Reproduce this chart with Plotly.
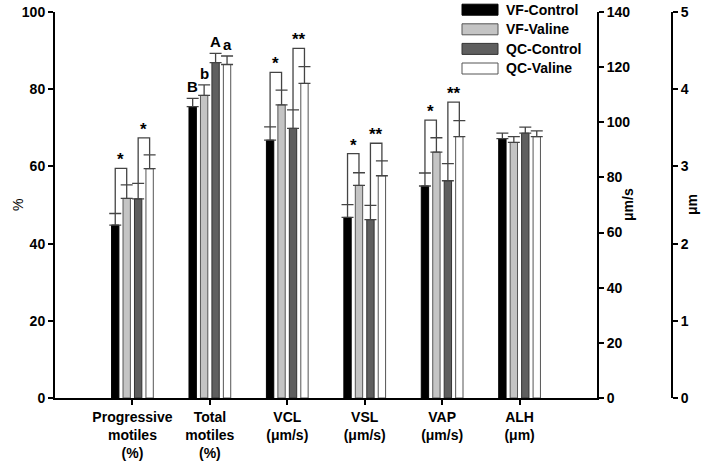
import plotly.graph_objects as go

# ---------------- data ----------------
categories = ["Progressive<br>motiles<br>(%)", "Total<br>motiles<br>(%)", "VCL<br>(μm/s)",
              "VSL<br>(μm/s)", "VAP<br>(μm/s)", "ALH<br>(μm)"]
category_axis = ["y", "y", "y2", "y2", "y2", "y3"]

series_names = ["VF-Control", "VF-Valine", "QC-Control", "QC-Valine"]
vf_control = [44.8, 75.5, 93.5, 65.5, 76.9, 3.36]
vf_valine = [51.7, 78.4, 106.3, 77.1, 89.2, 3.31]
qc_control = [51.6, 86.9, 97.8, 64.7, 78.8, 3.43]
qc_valine = [59.4, 86.4, 114.1, 80.6, 94.8, 3.385]

vf_control_err = [3.0, 2.1, 4.8, 4.6, 4.7, 0.07]
vf_valine_err = [3.5, 2.7, 5.4, 4.6, 5.2, 0.075]
qc_control_err = [4.0, 2.4, 6.7, 5.2, 6.2, 0.08]
qc_valine_err = [3.6, 2.2, 6.1, 5.4, 5.8, 0.075]

# significance brackets: category index, left series, right series, bracket top, label
sig_category = [0, 0, 2, 2, 3, 3, 4, 4]
sig_left = [0, 2, 0, 2, 0, 2, 0, 2]
sig_right = [1, 3, 1, 3, 1, 3, 1, 3]
sig_top = [59.5, 67.4, 118.1, 126.8, 88.6, 92.4, 100.8, 107.3]
sig_label = ["*", "*", "*", "**", "*", "**", "*", "**"]

# letters over Total motiles
letter_category = 1
letter_labels = ["B", "b", "A", "a"]

# axis ticks
pct_ticks = [0, 20, 40, 60, 80, 100]
ums_ticks = [0, 20, 40, 60, 80, 100, 120, 140]
um_ticks = [0, 1, 2, 3, 4, 5]

# ---------------- styles ----------------
values = [vf_control, vf_valine, qc_control, qc_valine]
errors = [vf_control_err, vf_valine_err, qc_control_err, qc_valine_err]
fills = ["#000000", "#c4c4c4", "#5f5f5f", "#ffffff"]
edges = ["#000000", "#555555", "#333333", "#555555"]
centers = [-0.222, -0.074, 0.074, 0.222]
bar_w = 0.095
FONT = "Liberation Sans, Arial, sans-serif"
GRAY = "#444444"

fig = go.Figure()
axis_groups = ["y", "y2", "y3"]
for s in range(4):
    for ax in axis_groups:
        idx = [i for i, a in enumerate(category_axis) if a == ax]
        fig.add_trace(go.Bar(
            x=[i + 1 for i in idx],
            y=[values[s][i] for i in idx],
            yaxis=ax,
            name=series_names[s],
            showlegend=False,
            offset=centers[s] - bar_w / 2,
            width=bar_w,
            marker=dict(color=fills[s], line=dict(color=edges[s], width=1)),
            error_y=dict(type="data", array=[errors[s][i] for i in idx], symmetric=False,
                         arrayminus=[0] * len(idx), color=GRAY, thickness=1.3, width=6),
        ))

shapes = []
annotations = []
for k in range(len(sig_category)):
    c = sig_category[k]
    ax = category_axis[c]
    l, r = sig_left[k], sig_right[k]
    xl = c + 1 + centers[l]
    xr = c + 1 + centers[r]
    yl = values[l][c] + errors[l][c]
    yr = values[r][c] + errors[r][c]
    top = sig_top[k]
    shapes.append(dict(type="path", xref="x", yref=ax,
                       path=f"M {xl},{yl} L {xl},{top} L {xr},{top} L {xr},{yr}",
                       line=dict(color=GRAY, width=1.3)))
    annotations.append(dict(x=(xl + xr) / 2, y=top, xref="x", yref=ax, text=f"<b>{sig_label[k]}</b>",
                            showarrow=False, yanchor="bottom", yshift=-3,
                            font=dict(family=FONT, size=17, color="black")))

for s in range(4):
    c = letter_category
    annotations.append(dict(x=c + 1 + centers[s], y=values[s][c] + errors[s][c], xref="x",
                            yref=category_axis[c], text=f"<b>{letter_labels[s]}</b>",
                            showarrow=False, yanchor="bottom", yshift=1,
                            font=dict(family=FONT, size=15, color="black")))

# custom legend
L, W, T, H = 55, 617, 12, 386
def px(x):
    return (x - L) / W
def py(y):
    return (T + H - y) / H
row_y = [9.7, 29.3, 48.9, 68.5]
for s in range(4):
    shapes.append(dict(type="rect", xref="paper", yref="paper",
                       x0=px(462), x1=px(498), y0=py(row_y[s] + 5.5), y1=py(row_y[s] - 5.5),
                       fillcolor=fills[s], line=dict(color=edges[s] if s else "#000", width=1)))
    annotations.append(dict(x=px(504), y=py(row_y[s]), xref="paper", yref="paper",
                            text=f"<b>{series_names[s]}</b>", showarrow=False,
                            xanchor="left", yanchor="middle",
                            font=dict(family=FONT, size=14, color="black")))

# axis titles
annotations.append(dict(x=px(8), y=0.5, xref="paper", yref="paper", text="%", textangle=-90,
                        showarrow=False, font=dict(family=FONT, size=14, color="black")))
annotations.append(dict(x=px(638), y=0.5, xref="paper", yref="paper", text="<b>μm/s</b>",
                        textangle=-90, showarrow=False, font=dict(family=FONT, size=14, color="black")))
annotations.append(dict(x=px(702), y=0.5, xref="paper", yref="paper", text="<b>μm</b>",
                        textangle=-90, showarrow=False, font=dict(family=FONT, size=14, color="black")))

tickfont = dict(family=FONT, size=14, color="black", weight="bold")
axis_common = dict(showline=True, linecolor="black", linewidth=2, ticks="outside", ticklen=5,
                   tickwidth=2, tickcolor="black", showgrid=False, zeroline=False,
                   tickfont=tickfont, fixedrange=True, automargin=False)

fig.update_layout(
    width=714, height=471,
    margin=dict(l=L, r=714 - L - W, t=T, b=471 - T - H, autoexpand=False),
    paper_bgcolor="white", plot_bgcolor="white",
    barmode="overlay",
    showlegend=False,
    xaxis=dict(domain=[0, (597 - L) / W], range=[0, 7], tickvals=[1, 2, 3, 4, 5, 6],
               ticktext=[f"<b>{c}</b>" for c in categories], anchor="y", **axis_common),
    yaxis=dict(range=[0, 100], tickvals=pct_ticks, anchor="x", **axis_common),
    yaxis2=dict(range=[0, 140], tickvals=ums_ticks, overlaying="y", side="right", anchor="x",
                **axis_common),
    yaxis3=dict(range=[0, 5], tickvals=um_ticks, overlaying="y", side="right", anchor="free",
                position=1.0, **axis_common),
    shapes=shapes,
    annotations=annotations,
)

fig.write_html("out.html", config={"displayModeBar": False},
               post_script="document.body.style.margin='0';")
